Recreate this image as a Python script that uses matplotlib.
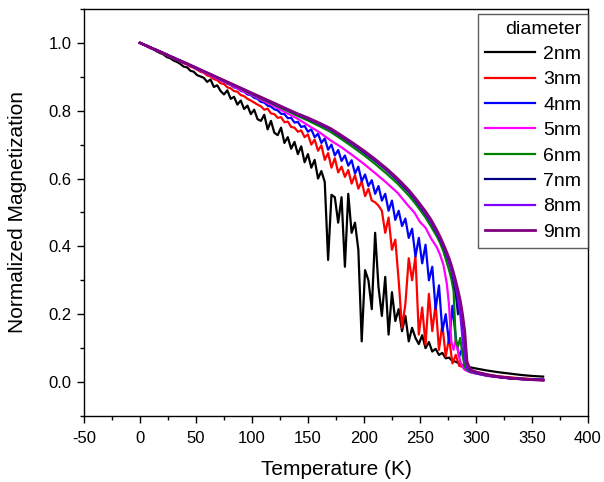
import numpy as np
import matplotlib
matplotlib.use('Agg')
import matplotlib.pyplot as plt
from matplotlib.ticker import MultipleLocator

plt.rcParams['font.family'] = ['Liberation Sans', 'DejaVu Sans']
plt.rcParams['axes.unicode_minus'] = False

# temperature grids (K)
T_noisy = list(range(0, 301, 3)) + [310, 320, 330, 340, 350, 360]
T_smooth = [0, 10, 20, 30, 40, 50, 60, 70, 80, 90, 100, 110, 120, 130, 140, 150, 160, 170,
            180, 190, 200, 210, 220, 230, 240, 245, 250, 255, 260, 265, 268, 271, 274,
            276, 278, 280, 282, 284, 286, 288, 290, 292, 295, 300, 310, 320, 330, 340, 350, 360]

m_2nm = [1.000, 0.995, 0.991, 0.985, 0.981, 0.975, 0.970, 0.966, 0.958, 0.955,
         0.948, 0.944, 0.938, 0.930, 0.928, 0.918, 0.915, 0.905, 0.901, 0.897,
         0.885, 0.892, 0.870, 0.875, 0.858, 0.848, 0.860, 0.835, 0.841, 0.818,
         0.830, 0.805, 0.815, 0.790, 0.803, 0.775, 0.770, 0.788, 0.745, 0.770,
         0.735, 0.728, 0.750, 0.705, 0.722, 0.688, 0.708, 0.672, 0.695, 0.648,
         0.672, 0.632, 0.655, 0.600, 0.622, 0.590, 0.360, 0.552, 0.545, 0.470,
         0.545, 0.340, 0.555, 0.440, 0.470, 0.390, 0.120, 0.330, 0.300, 0.215,
         0.440, 0.280, 0.195, 0.310, 0.140, 0.265, 0.180, 0.215, 0.150, 0.195,
         0.120, 0.160, 0.130, 0.112, 0.138, 0.100, 0.118, 0.090, 0.098, 0.080,
         0.086, 0.070, 0.072, 0.062, 0.060, 0.055, 0.050, 0.047, 0.044, 0.042,
         0.040,
         0.034, 0.029, 0.025, 0.021, 0.018, 0.016]

m_3nm = [1.000, 0.996, 0.992, 0.987, 0.983, 0.979, 0.973, 0.970, 0.965, 0.960,
         0.956, 0.950, 0.946, 0.940, 0.937, 0.930, 0.927, 0.921, 0.915, 0.912,
         0.904, 0.901, 0.893, 0.890, 0.881, 0.879, 0.869, 0.866, 0.858, 0.856,
         0.846, 0.843, 0.835, 0.830, 0.824, 0.818, 0.813, 0.803, 0.806, 0.792,
         0.790, 0.779, 0.781, 0.766, 0.768, 0.752, 0.750, 0.738, 0.742, 0.722,
         0.730, 0.700, 0.715, 0.682, 0.698, 0.655, 0.675, 0.632, 0.660, 0.618,
         0.635, 0.605, 0.625, 0.585, 0.610, 0.570, 0.592, 0.548, 0.570, 0.535,
         0.530, 0.520, 0.505, 0.440, 0.485, 0.390, 0.420, 0.300, 0.160, 0.230,
         0.365, 0.300, 0.370, 0.140, 0.220, 0.110, 0.260, 0.150, 0.230, 0.095,
         0.170, 0.075, 0.130, 0.055, 0.080, 0.048, 0.045, 0.040, 0.036, 0.032,
         0.029,
         0.022, 0.017, 0.014, 0.011, 0.009, 0.008]

m_4nm = [1.000, 0.996, 0.992, 0.988, 0.983, 0.979, 0.975, 0.970, 0.966, 0.961,
         0.957, 0.952, 0.948, 0.943, 0.939, 0.934, 0.930, 0.924, 0.920, 0.915,
         0.910, 0.906, 0.900, 0.896, 0.890, 0.886, 0.880, 0.876, 0.869, 0.866,
         0.859, 0.856, 0.848, 0.846, 0.838, 0.835, 0.826, 0.824, 0.815, 0.812,
         0.804, 0.801, 0.791, 0.790, 0.778, 0.779, 0.765, 0.767, 0.752, 0.755,
         0.738, 0.745, 0.722, 0.732, 0.705, 0.718, 0.685, 0.700, 0.668, 0.684,
         0.652, 0.668, 0.638, 0.654, 0.615, 0.635, 0.592, 0.612, 0.578, 0.595,
         0.555, 0.578, 0.535, 0.555, 0.505, 0.535, 0.478, 0.505, 0.460, 0.482,
         0.425, 0.452, 0.370, 0.425, 0.350, 0.405, 0.300, 0.340, 0.215, 0.285,
         0.150, 0.200, 0.115, 0.225, 0.130, 0.075, 0.100, 0.040, 0.031, 0.028,
         0.026,
         0.019, 0.015, 0.012, 0.010, 0.008, 0.007]

m_5nm = [1.000, 0.984, 0.970, 0.954, 0.940, 0.924, 0.909, 0.893, 0.878, 0.861,
         0.846, 0.829, 0.813, 0.795, 0.778, 0.757, 0.737, 0.713, 0.692, 0.668,
         0.643, 0.616, 0.588, 0.558, 0.518,
         0.500, 0.472, 0.455, 0.423, 0.398,
         0.375, 0.345, 0.290,
         0.225, 0.120, 0.095, 0.125, 0.090, 0.060, 0.045, 0.036,
         0.033, 0.029,
         0.025, 0.018, 0.014, 0.011, 0.009, 0.008, 0.007]

m_6nm = [1.000, 0.985, 0.970, 0.955, 0.941, 0.926, 0.911, 0.896, 0.880, 0.865,
         0.849, 0.833, 0.818, 0.802, 0.786, 0.771, 0.755, 0.738, 0.716, 0.693,
         0.669, 0.643, 0.615, 0.585, 0.550,
         0.530, 0.508, 0.485, 0.458, 0.430,
         0.410, 0.385, 0.352,
         0.330, 0.305, 0.270, 0.120, 0.105, 0.130, 0.080, 0.045,
         0.036, 0.030,
         0.026, 0.019, 0.015, 0.011, 0.009, 0.007, 0.006]

m_7nm = [1.000, 0.985, 0.971, 0.956, 0.941, 0.926, 0.911, 0.896, 0.881, 0.866,
         0.850, 0.835, 0.820, 0.805, 0.790, 0.776, 0.761, 0.745, 0.723, 0.701,
         0.677, 0.652, 0.625, 0.594, 0.560,
         0.540, 0.518, 0.495, 0.470, 0.440,
         0.420, 0.398, 0.372,
         0.352, 0.330, 0.300, 0.262, 0.200, 0.232, 0.150, 0.090,
         0.045, 0.032,
         0.027, 0.020, 0.015, 0.011, 0.009, 0.007, 0.006]

m_8nm = [1.000, 0.985, 0.971, 0.956, 0.941, 0.926, 0.911, 0.896, 0.881, 0.866,
         0.851, 0.836, 0.821, 0.806, 0.791, 0.777, 0.762, 0.746, 0.725, 0.703,
         0.680, 0.655, 0.627, 0.597, 0.563,
         0.543, 0.521, 0.498, 0.472, 0.442,
         0.422, 0.400, 0.375,
         0.355, 0.333, 0.308, 0.280, 0.245, 0.200, 0.130, 0.070,
         0.042, 0.032,
         0.027, 0.020, 0.015, 0.011, 0.009, 0.007, 0.006]

m_9nm = [1.000, 0.985, 0.971, 0.956, 0.942, 0.927, 0.912, 0.897, 0.882, 0.867,
         0.852, 0.837, 0.822, 0.807, 0.792, 0.779, 0.764, 0.748, 0.727, 0.705,
         0.682, 0.657, 0.630, 0.600, 0.566,
         0.546, 0.525, 0.503, 0.478, 0.448,
         0.428, 0.406, 0.382,
         0.365, 0.345, 0.322, 0.297, 0.270, 0.240, 0.200, 0.150,
         0.060, 0.036,
         0.030, 0.022, 0.016, 0.012, 0.009, 0.007, 0.005]

labels = ['2nm', '3nm', '4nm', '5nm', '6nm', '7nm', '8nm', '9nm']
colors = ['black', '#ff0000', '#0000ff', '#ff00ff', '#008000', '#000080', '#8000ff', '#800080']

series = [(T_noisy, m_2nm), (T_noisy, m_3nm), (T_noisy, m_4nm),
          (T_smooth, m_5nm), (T_smooth, m_6nm), (T_smooth, m_7nm),
          (T_smooth, m_8nm), (T_smooth, m_9nm)]

fig = plt.figure(figsize=(6.04, 4.82), dpi=100)
ax = fig.add_axes([0.139, 0.137, 0.8344, 0.8444])

for (T, m), lab, c in zip(series, labels, colors):
  lw = 2.0 if lab == '9nm' else 1.6
  ax.plot(T, m, color=c, lw=lw, label=lab)

ax.set_xlim(-50, 400)
ax.set_ylim(-0.1, 1.1)
ax.xaxis.set_major_locator(MultipleLocator(50))
ax.xaxis.set_minor_locator(MultipleLocator(25))
ax.yaxis.set_minor_locator(MultipleLocator(0.1))
ax.set_yticks(np.arange(0, 1.01, 0.2))
ax.set_yticklabels(['0.0', '0.2', '0.4', '0.6', '0.8', '1.0'])
ax.tick_params(which='major', direction='out', length=5, width=1, labelsize=12)
ax.tick_params(which='minor', direction='out', length=3, width=1)
ax.tick_params(axis='x', which='major', pad=6)
ax.tick_params(axis='y', which='major', pad=4)
for s in ax.spines.values():
  s.set_linewidth(1)

ax.set_xlabel('Temperature (K)', fontsize=15, labelpad=10)
ax.set_ylabel('Normalized Magnetization', fontsize=15, labelpad=15)

leg = ax.legend(title='diameter', loc='upper right', bbox_to_anchor=(1.0, 0.988),
                borderaxespad=0, fontsize=14, title_fontsize=14, fancybox=False,
                frameon=True, edgecolor='#333333', handlelength=2.6,
                handletextpad=0.4, labelspacing=0.4, borderpad=0.35,
                alignment='right')
leg.get_frame().set_linewidth(1)

fig.savefig('out.png', dpi=100)
